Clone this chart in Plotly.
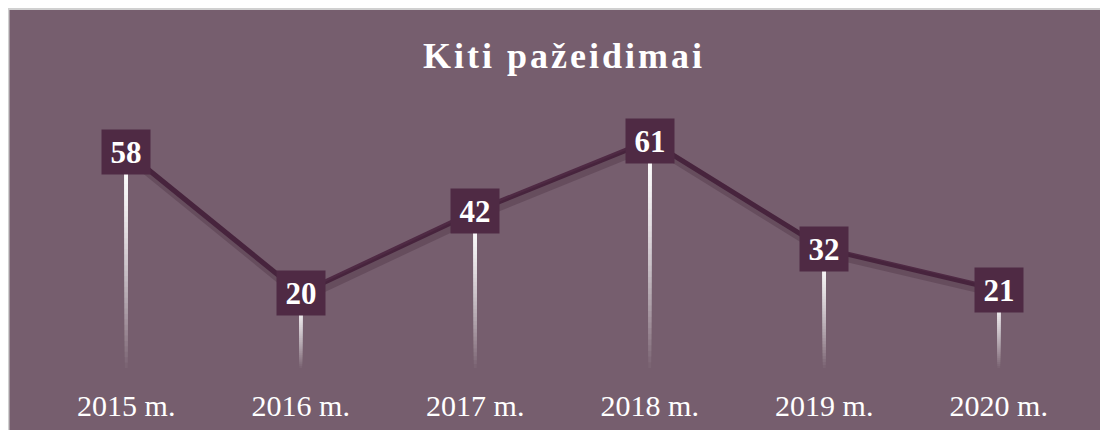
import plotly.graph_objects as go

categories = ["2015 m.", "2016 m.", "2017 m.", "2018 m.", "2019 m.", "2020 m."]
values = [58, 20, 42, 61, 32, 21]
title_text = "Kiti pažeidimai"

W, H = 1108, 430
ML, MR, MT, MB = 31, 30, 99, 70
PW, PH = W - ML - MR, H - MT - MB
BG = "#765E6E"
BG_RGB = (118, 94, 110)
DARK = "#4F2A44"
FONT = "Liberation Serif, Times New Roman, serif"
YMAX = 70

def px_x(p):
    return (p - ML) / PW

def px_y(p):
    return (H - MB - p) / PH

def blend(op):
    r, g, b = (round(c + (255 - c) * op) for c in BG_RGB)
    return "rgb(%d,%d,%d)" % (r, g, b)

fig = go.Figure()

# gradient drop lines: overlapping opaque bars, longest (faintest) drawn first
N = 40
seg_x, seg_base, seg_len, seg_col = [], [], [], []
for c, v in zip(categories, values):
    for k in reversed(range(N)):
        t = k / N
        op = max(0.0, 1.0 - t ** 1.5)
        lo = v * (1 - (k + 1) / N)
        seg_x.append(c)
        seg_base.append(lo)
        seg_len.append(v - lo)
        seg_col.append(blend(op))
bar_w = 3.0 * 6 / PW
fig.add_trace(go.Bar(x=seg_x, y=seg_len, base=seg_base, width=[bar_w] * len(seg_x),
                     marker=dict(color=seg_col, line=dict(width=0)),
                     hoverinfo="skip", showlegend=False))

# soft shadow trace on slightly offset axes
fig.add_trace(go.Scatter(x=categories, y=values, mode="lines", xaxis="x2", yaxis="y2",
                         line=dict(color="rgba(45,20,38,0.22)", width=9),
                         hoverinfo="skip", showlegend=False))
fig.add_trace(go.Scatter(x=categories, y=values, mode="lines",
                         line=dict(color=DARK, width=5),
                         hoverinfo="skip", showlegend=False))

shapes = [
    dict(type="rect", xref="paper", yref="paper", x0=px_x(0.5), x1=px_x(W + 5),
         y0=px_y(H + 5), y1=px_y(1.0), fillcolor="rgba(0,0,0,0)",
         line=dict(color="#D0D0D0", width=2), layer="below"),
]

annotations = []
for c, v in zip(categories, values):
    annotations.append(dict(x=c, y=v, xref="x", yref="y", text="<b>%d</b>" % v,
                            showarrow=False, bgcolor=DARK, width=48, height=44,
                            borderpad=0, font=dict(family=FONT, size=31, color="white"),
                            align="center", valign="middle"))

spaced_title = "\u200a".join(list(title_text))

fig.update_layout(
    width=W, height=H,
    margin=dict(l=ML, r=MR, t=MT, b=MB),
    paper_bgcolor=BG,
    plot_bgcolor=BG,
    barmode="overlay",
    title=dict(text="<b>%s</b>" % spaced_title, x=0.5, xref="paper",
               y=1 - 47 / H, yref="container", yanchor="middle", xanchor="center",
               font=dict(family=FONT, size=36, color="white")),
    xaxis=dict(type="category", categoryorder="array", categoryarray=categories,
               showgrid=False, zeroline=False, showline=False, ticks="",
               tickfont=dict(family=FONT, size=30, color="white"),
               ticklabelstandoff=17, range=[-0.5, 5.5]),
    yaxis=dict(range=[0, YMAX], showgrid=False, zeroline=False, showline=False,
               showticklabels=False, ticks=""),
    xaxis2=dict(type="category", categoryorder="array", categoryarray=categories,
                overlaying="x", range=[-0.5 - 2 * 6 / PW, 5.5 - 2 * 6 / PW],
                visible=False),
    yaxis2=dict(overlaying="y", range=[4 * YMAX / PH, YMAX + 4 * YMAX / PH], visible=False),
    shapes=shapes,
    annotations=annotations,
    showlegend=False,
)

fig.write_html("out.html")
